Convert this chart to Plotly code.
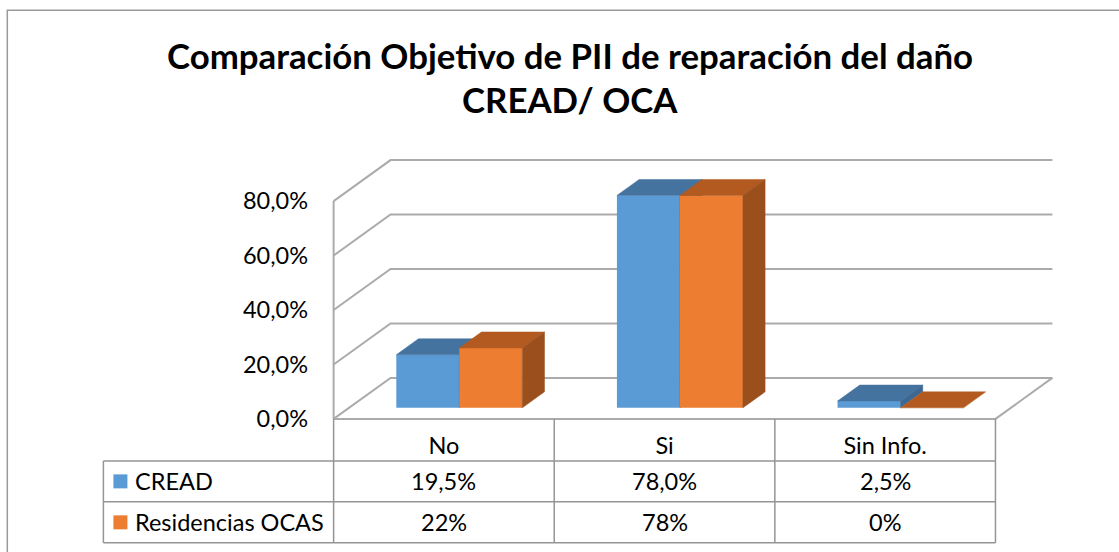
import plotly.graph_objects as go

# ---------------- data ----------------
categories = ["No", "Si", "Sin Info."]
cread = [19.5, 78.0, 2.5]
ocas = [22, 78, 0]
cread_text = ["19,5%", "78,0%", "2,5%"]
ocas_text = ["22%", "78%", "0%"]
series_names = ["CREAD", "Residencias OCAS"]
y_ticks = [0, 20, 40, 60, 80]
y_ticktext = ["0,0%", "20,0%", "40,0%", "60,0%", "80,0%"]
title_lines = ["Comparación Objetivo de PII de reparación del daño", "CREAD/ OCA"]

# ---------------- style / geometry ----------------
W, H = 1119, 552
FONT = "Lato"
TXT = 23.5
BLUE, BLUE_TOP, BLUE_SIDE = "#5B9BD5", "#44739F", "#3C6892"
ORANGE, ORANGE_TOP, ORANGE_SIDE = "#ED7D31", "#B35A20", "#9A4F1C"
GRID = "#ABABAB"
TABLE = "#959595"

SX = 220.4      # px per category unit
SY = 2.725      # px per percent
DEPTH_X = 0.258  # oblique depth (x units)
DEPTH_Y = 15.05  # oblique depth (y units)
D0, D1 = 0.27, 0.66  # bar depth span (fraction)
BW = 0.2855          # bar width (x units)
YMAX = 80

n = len(categories)
PADX, PADY = 0.03, 1.5
xr = [-0.5 - PADX, n - 0.5 + DEPTH_X + PADX]
yr = [-PADY, YMAX + DEPTH_Y + PADY]
front_left_px, front_bottom_px = 334, 419
ml = front_left_px - PADX * SX
pw = (xr[1] - xr[0]) * SX
mr = W - ml - pw
mb = H - front_bottom_px - PADY * SY
ph = (yr[1] - yr[0]) * SY
mt = H - mb - ph


def paper_x(px):
    return (px - ml) / pw


def paper_y(py):
    return (H - mb - py) / ph


fig = go.Figure()

# ---------------- walls & grid (shapes under traces) ----------------
shapes = []
x_left = -0.5
x_right = n - 0.5
for t in y_ticks:
    shapes.append(dict(type="path", xref="x", yref="y", layer="below",
                       path=f"M{x_left},{t} L{x_left + DEPTH_X},{t + DEPTH_Y} L{x_right + DEPTH_X},{t + DEPTH_Y}",
                       line=dict(color=GRID, width=2)))
shapes.append(dict(type="line", xref="x", yref="y", layer="below",
                   x0=x_left, y0=0, x1=x_left, y1=YMAX, line=dict(color=GRID, width=2)))
shapes.append(dict(type="path", xref="x", yref="y", layer="below",
                   path=f"M{x_left},0 L{x_right},0 L{x_right + DEPTH_X},{DEPTH_Y}",
                   line=dict(color=GRID, width=2)))

# ---------------- bars (front faces + oblique faces) ----------------
b0 = D0 * DEPTH_Y
ddx = (D1 - D0) * DEPTH_X
ddy = (D1 - D0) * DEPTH_Y
shift = D0 * DEPTH_X

groups = [
    (cread, series_names[0], BLUE, BLUE_TOP, BLUE_SIDE, -BW, "x2", "y2"),
    (ocas, series_names[1], ORANGE, ORANGE_TOP, ORANGE_SIDE, 0.0, "x3", "y3"),
]
for vals, name, cf, ct, cs, off, xa, ya in groups:
    fig.add_trace(go.Bar(x=[i + shift for i in range(n)], y=vals, base=b0, width=BW, offset=off,
                         marker=dict(color=cf, line=dict(width=0)), name=name,
                         showlegend=False, xaxis=xa, yaxis=ya, hoverinfo="skip"))
    for i, v in enumerate(vals):
        xl = i + shift + off
        xrt = xl + BW
        top = b0 + v
        # top face
        fig.add_trace(go.Scatter(
            x=[xl, xrt, xrt + ddx, xl + ddx, xl],
            y=[top, top, top + ddy, top + ddy, top],
            fill="toself", fillcolor=ct, mode="lines", line=dict(width=0.5, color=ct),
            showlegend=False, hoverinfo="skip", xaxis=xa, yaxis=ya))
        # right side face
        if v > 0:
            fig.add_trace(go.Scatter(
                x=[xrt, xrt, xrt + ddx, xrt + ddx, xrt],
                y=[b0, top, top + ddy, b0 + ddy, b0],
                fill="toself", fillcolor=cs, mode="lines", line=dict(width=0.5, color=cs),
                showlegend=False, hoverinfo="skip", xaxis=xa, yaxis=ya))

# ---------------- data table ----------------
row_px = [419, 461, 502, 543]
col_px_left = 104
col_edges = [x_left + k for k in range(n + 1)]


def cx(xv):
    return front_left_px + (xv - x_left) * SX


for py in row_px[1:]:
    shapes.append(dict(type="line", xref="paper", yref="paper",
                       x0=paper_x(col_px_left), x1=paper_x(cx(x_right)),
                       y0=paper_y(py), y1=paper_y(py), line=dict(color=TABLE, width=1.5)))
for xe in col_edges:
    shapes.append(dict(type="line", xref="paper", yref="paper",
                       x0=paper_x(cx(xe)), x1=paper_x(cx(xe)),
                       y0=paper_y(row_px[0]), y1=paper_y(row_px[-1]), line=dict(color=TABLE, width=1.5)))
shapes.append(dict(type="line", xref="paper", yref="paper",
                   x0=paper_x(col_px_left), x1=paper_x(col_px_left),
                   y0=paper_y(row_px[1]), y1=paper_y(row_px[-1]), line=dict(color=TABLE, width=1.5)))

annotations = []
for r, (texts, name, color) in enumerate([(cread_text, series_names[0], BLUE),
                                          (ocas_text, series_names[1], ORANGE)]):
    yc = (row_px[r + 1] + row_px[r + 2]) / 2
    for i, t in enumerate(texts):
        annotations.append(dict(x=i, xref="x", y=paper_y(yc), yref="paper", text=t, showarrow=False,
                                font=dict(family=FONT, size=TXT, color="#000"), xanchor="center", yanchor="middle"))
    shapes.append(dict(type="rect", xref="paper", yref="paper",
                       x0=paper_x(114), x1=paper_x(128), y0=paper_y(yc - 7), y1=paper_y(yc + 7),
                       fillcolor=color, line=dict(width=0)))
    annotations.append(dict(x=paper_x(134), xref="paper", y=paper_y(yc), yref="paper", text=name,
                            showarrow=False, font=dict(family=FONT, size=TXT, color="#000"),
                            xanchor="left", yanchor="middle"))

for line, yc in zip(title_lines, [55, 99]):
    annotations.append(dict(x=paper_x(570), xref="paper", y=paper_y(yc), yref="paper", text=f"<b>{line}</b>",
                            showarrow=False, font=dict(family=FONT, size=34.8, color="#000"),
                            xanchor="center", yanchor="middle"))

# chart border
shapes.append(dict(type="path", xref="paper", yref="paper",
                   path=f"M{paper_x(W + 5)},{paper_y(10)} L{paper_x(8)},{paper_y(10)} L{paper_x(8)},{paper_y(H + 5)}",
                   line=dict(color="#9A9A9A", width=1.5)))

axis_common = dict(showgrid=False, zeroline=False, showline=False, fixedrange=True)
fig.update_layout(
    width=W, height=H, autosize=False,
    margin=dict(l=ml, r=mr, t=mt, b=mb, pad=0),
    paper_bgcolor="white", plot_bgcolor="rgba(0,0,0,0)",
    barmode="overlay", showlegend=False,
    xaxis=dict(range=xr, tickvals=list(range(n)), ticktext=categories, ticks="",
               tickfont=dict(family=FONT, size=TXT, color="#000"), ticklabelstandoff=6, **axis_common),
    yaxis=dict(range=yr, tickvals=y_ticks, ticktext=y_ticktext, ticks="",
               tickfont=dict(family=FONT, size=TXT, color="#000"), ticklabelstandoff=18, **axis_common),
    xaxis2=dict(range=xr, overlaying="x", visible=False, **axis_common),
    yaxis2=dict(range=yr, overlaying="y", visible=False, **axis_common),
    xaxis3=dict(range=xr, overlaying="x", visible=False, **axis_common),
    yaxis3=dict(range=yr, overlaying="y", visible=False, **axis_common),
    shapes=shapes, annotations=annotations,
)

fig.write_html("out.html", config={"displayModeBar": False},
               post_script="document.body.style.margin='0px';")
